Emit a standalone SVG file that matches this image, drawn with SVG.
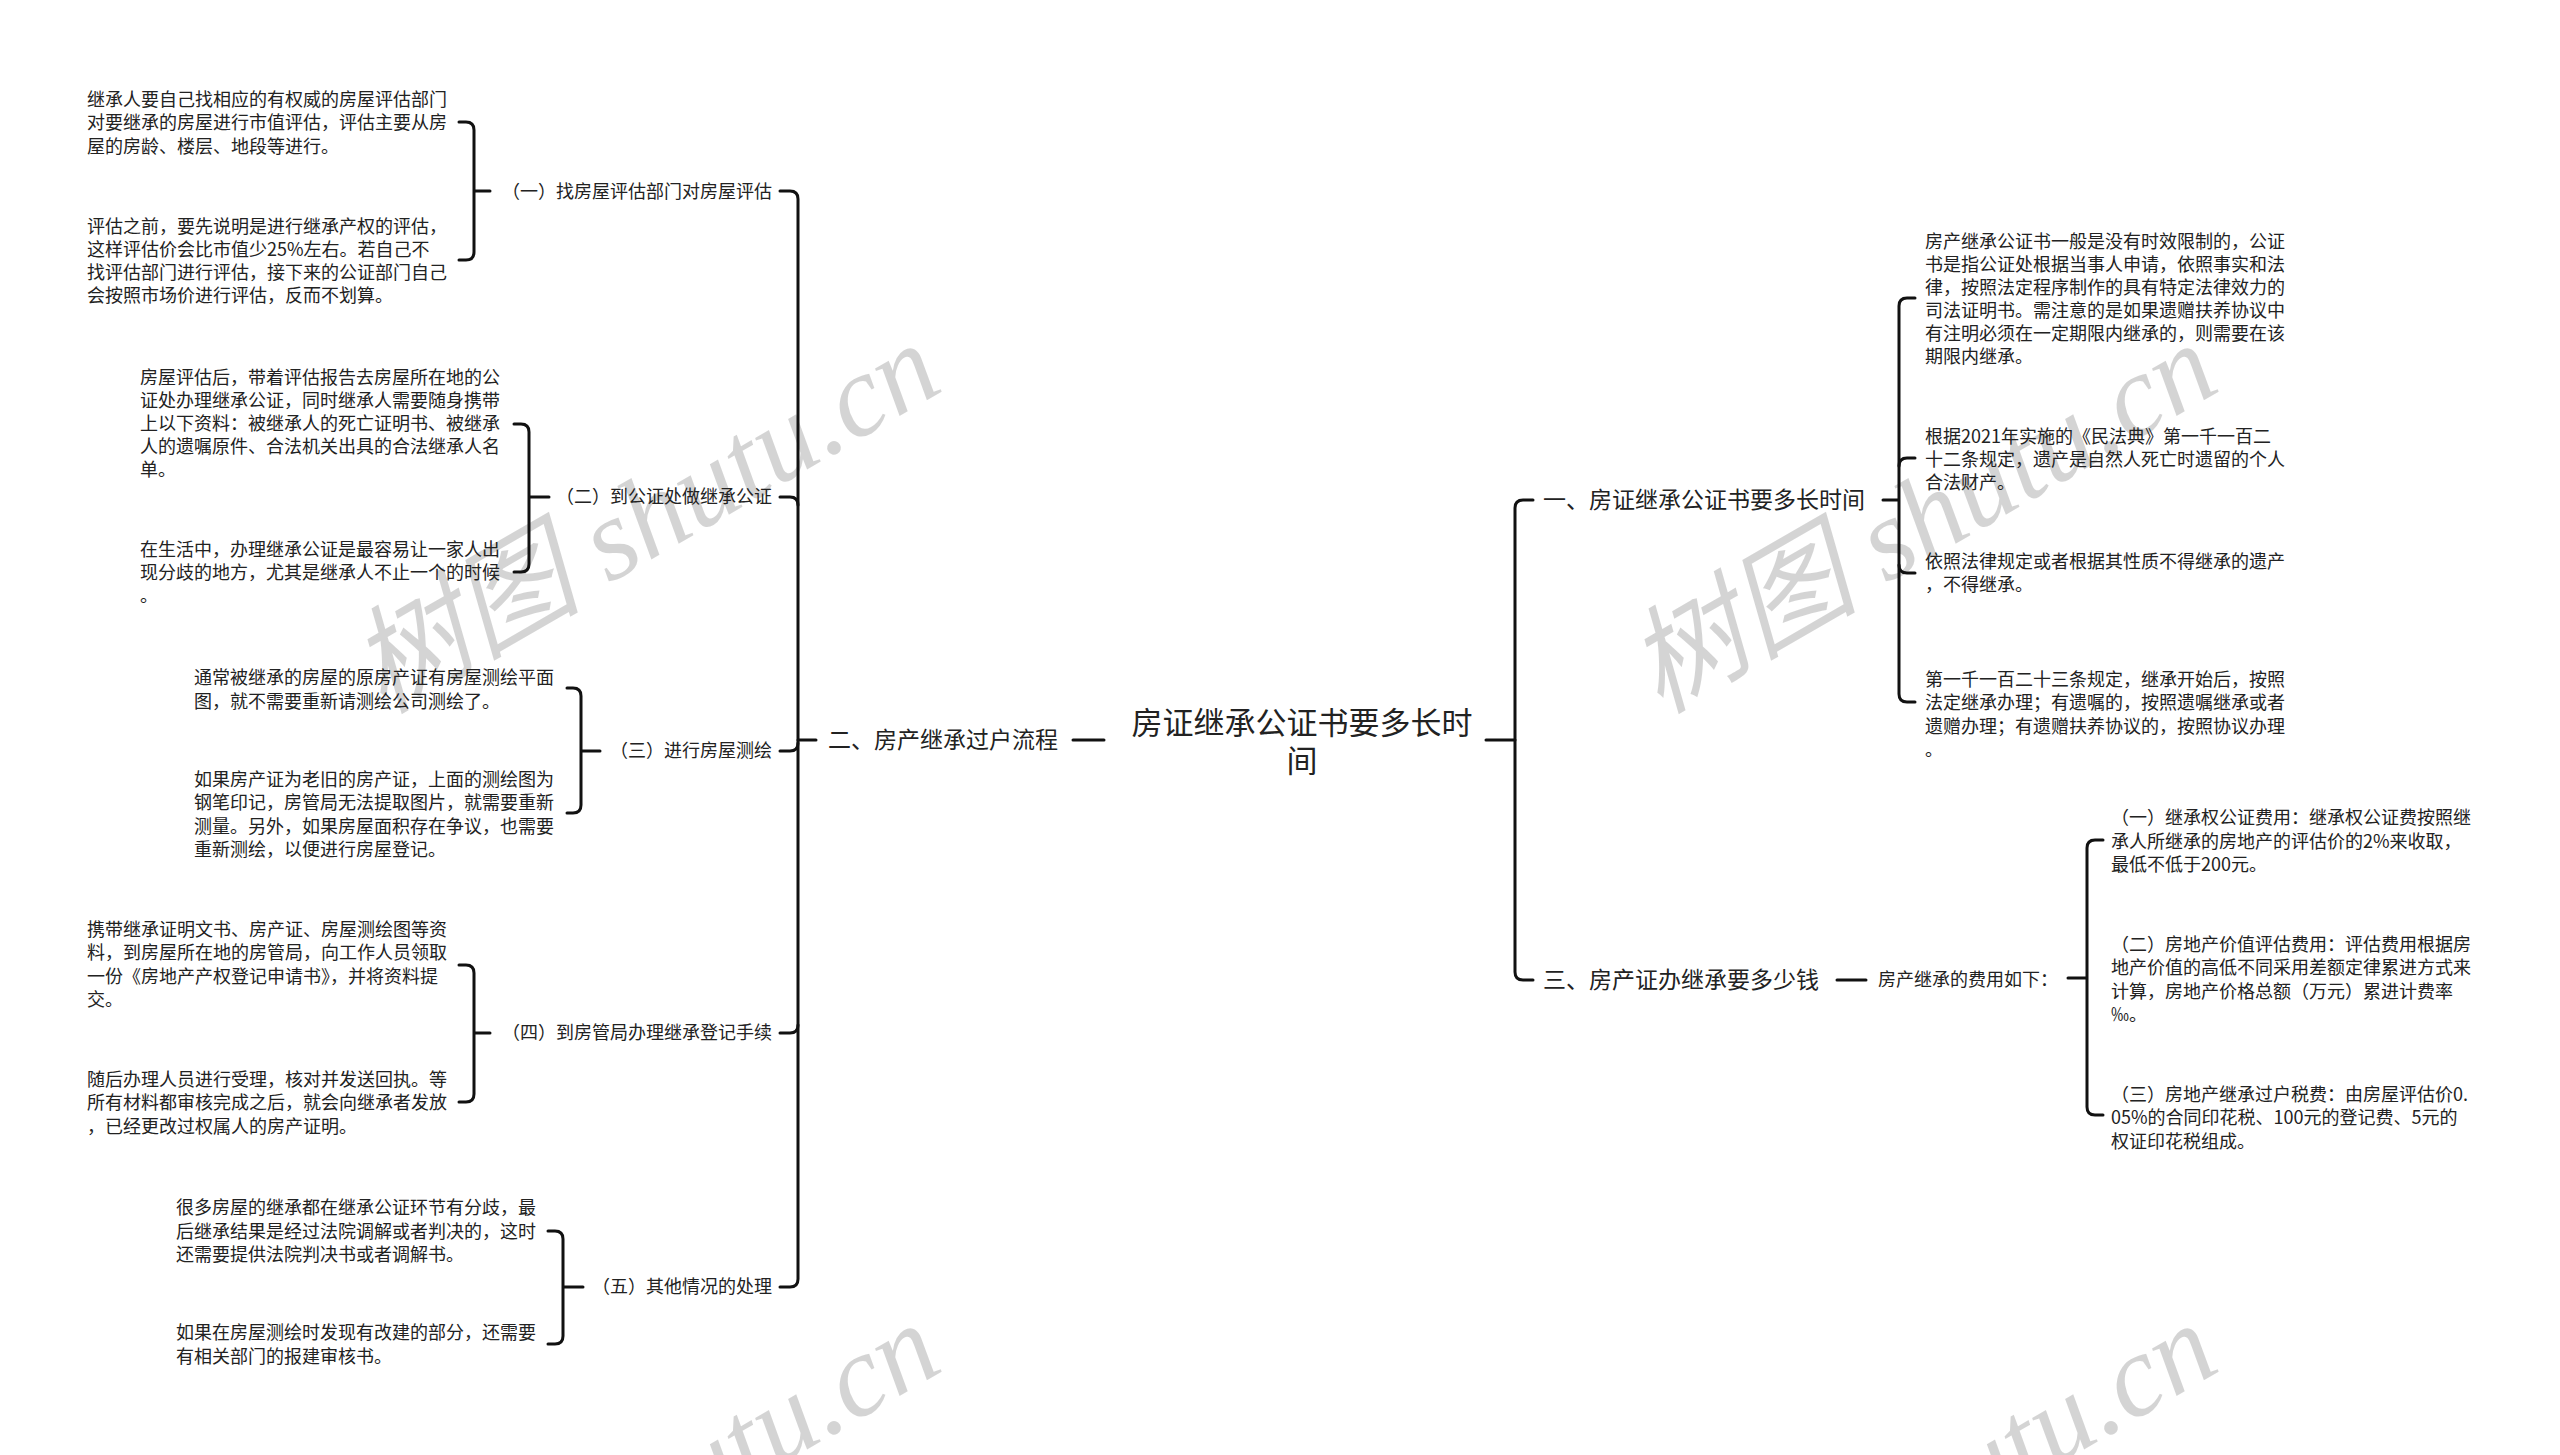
<svg xmlns="http://www.w3.org/2000/svg" width="2560" height="1455" viewBox="0 0 2560 1455">
<style>
text{font-family:"Noto Sans CJK SC","Liberation Sans",sans-serif;fill:#222;dominant-baseline:central}
.leaf{font-size:18px}
.sub{font-size:18px;text-anchor:end}
.l1{font-size:23px}
.root{font-size:31px;text-anchor:middle}
.ln{fill:none;stroke:#111;stroke-width:3;stroke-linecap:round;stroke-linejoin:round}
.wm{font-family:"Liberation Serif","Noto Sans CJK SC",serif;font-style:italic;font-size:116px;fill:#000;fill-opacity:0.17;text-anchor:middle}
</style>
<rect width="2560" height="1455" fill="#fff"/>

<g id="watermarks">
<text class="wm" x="645" y="518" transform="rotate(-30 645 518)">树图 shutu.cn</text>
<text class="wm" x="1922" y="518" transform="rotate(-30 1922 518)">树图 shutu.cn</text>
<text class="wm" x="645" y="1498" transform="rotate(-30 645 1498)">树图 shutu.cn</text>
<text class="wm" x="1922" y="1498" transform="rotate(-30 1922 1498)">树图 shutu.cn</text>
</g>

<g id="connectors">
<path class="ln" d="M1073 740 H1104"/>
<path class="ln" d="M1486 740 H1515"/>
<!-- left trunk -->
<path class="ln" d="M780 191 H790 Q798 191 798 199 V1279 Q798 1287 790 1287 H780"/>
<path class="ln" d="M780 497 H790 Q798 497 798 505"/>
<path class="ln" d="M780 751 H790 Q798 751 798 743"/>
<path class="ln" d="M780 1033 H790 Q798 1033 798 1025"/>
<path class="ln" d="M798 740 H816"/>
<!-- (一) bracket -->
<path class="ln" d="M459 122 H466 Q474 122 474 130 V252 Q474 260 466 260 H459 M474 191 H490"/>
<!-- (二) bracket -->
<path class="ln" d="M514 424 H521 Q529 424 529 432 V564 Q529 572 521 572 H514 M529 497 H549"/>
<!-- (三) bracket -->
<path class="ln" d="M567 688 H573 Q581 688 581 696 V805 Q581 813 573 813 H567 M581 751 H600"/>
<!-- (四) bracket -->
<path class="ln" d="M459 965 H466 Q474 965 474 973 V1094 Q474 1102 466 1102 H459 M474 1033 H490"/>
<!-- (五) bracket -->
<path class="ln" d="M548 1231 H555 Q563 1231 563 1239 V1336 Q563 1344 555 1344 H548 M563 1287 H583"/>
<!-- right trunk -->
<path class="ln" d="M1533 500 H1523 Q1515 500 1515 508 V972 Q1515 980 1523 980 H1533"/>
<!-- 一 bracket -->
<path class="ln" d="M1883 500 H1899 M1915 298 H1907 Q1899 298 1899 306 V694 Q1899 702 1907 702 H1915"/>
<path class="ln" d="M1915 458 H1907 Q1899 458 1899 466 M1915 573 H1907 Q1899 573 1899 565"/>
<!-- 三 -> fees -->
<path class="ln" d="M1837 980 H1866"/>
<path class="ln" d="M2068 978 H2087 M2103 840 H2095 Q2087 840 2087 848 V1107 Q2087 1115 2095 1115 H2103"/>
</g>

<g id="nodes" transform="translate(0,-2.5)">
<g id="root"><text class="root"><tspan x="1302" y="722">房证继承公证书要多长时</tspan><tspan x="1302" y="760">间</tspan></text></g>

<g id="n2"><text class="l1" x="828" y="740">二、房产继承过户流程</text></g>
<g id="n1"><text class="l1" x="1543" y="500">一、房证继承公证书要多长时间</text></g>
<g id="n3"><text class="l1" x="1543" y="980">三、房产证办继承要多少钱</text></g>

<g id="s1"><text class="sub" x="772" y="192">（一）找房屋评估部门对房屋评估</text></g>
<g id="s2"><text class="sub" x="772" y="497">（二）到公证处做继承公证</text></g>
<g id="s3"><text class="sub" x="772" y="751">（三）进行房屋测绘</text></g>
<g id="s4"><text class="sub" x="772" y="1033">（四）到房管局办理继承登记手续</text></g>
<g id="s5"><text class="sub" x="772" y="1287">（五）其他情况的处理</text></g>

<g id="a1"><text class="leaf"><tspan x="87" y="100">继承人要自己找相应的有权威的房屋评估部门</tspan><tspan x="87" y="123.5">对要继承的房屋进行市值评估，评估主要从房</tspan><tspan x="87" y="147">屋的房龄、楼层、地段等进行。</tspan></text></g>
<g id="a2"><text class="leaf"><tspan x="87" y="227">评估之前，要先说明是进行继承产权的评估，</tspan><tspan x="87" y="250">这样评估价会比市值少25%左右。若自己不</tspan><tspan x="87" y="273">找评估部门进行评估，接下来的公证部门自己</tspan><tspan x="87" y="296">会按照市场价进行评估，反而不划算。</tspan></text></g>

<g id="b1"><text class="leaf"><tspan x="140" y="378">房屋评估后，带着评估报告去房屋所在地的公</tspan><tspan x="140" y="401">证处办理继承公证，同时继承人需要随身携带</tspan><tspan x="140" y="424">上以下资料：被继承人的死亡证明书、被继承</tspan><tspan x="140" y="447">人的遗嘱原件、合法机关出具的合法继承人名</tspan><tspan x="140" y="470">单。</tspan></text></g>
<g id="b2"><text class="leaf"><tspan x="140" y="550">在生活中，办理继承公证是最容易让一家人出</tspan><tspan x="140" y="573">现分歧的地方，尤其是继承人不止一个的时候</tspan><tspan x="140" y="596">。</tspan></text></g>

<g id="c1"><text class="leaf"><tspan x="194" y="678">通常被继承的房屋的原房产证有房屋测绘平面</tspan><tspan x="194" y="702">图，就不需要重新请测绘公司测绘了。</tspan></text></g>
<g id="c2"><text class="leaf"><tspan x="194" y="780">如果房产证为老旧的房产证，上面的测绘图为</tspan><tspan x="194" y="803">钢笔印记，房管局无法提取图片，就需要重新</tspan><tspan x="194" y="827">测量。另外，如果房屋面积存在争议，也需要</tspan><tspan x="194" y="850">重新测绘，以便进行房屋登记。</tspan></text></g>

<g id="d1"><text class="leaf"><tspan x="87" y="930">携带继承证明文书、房产证、房屋测绘图等资</tspan><tspan x="87" y="953">料，到房屋所在地的房管局，向工作人员领取</tspan><tspan x="87" y="977">一份《房地产产权登记申请书》，并将资料提</tspan><tspan x="87" y="1000">交。</tspan></text></g>
<g id="d2"><text class="leaf"><tspan x="87" y="1080">随后办理人员进行受理，核对并发送回执。等</tspan><tspan x="87" y="1103">所有材料都审核完成之后，就会向继承者发放</tspan><tspan x="87" y="1127">，已经更改过权属人的房产证明。</tspan></text></g>

<g id="e1"><text class="leaf"><tspan x="176" y="1208">很多房屋的继承都在继承公证环节有分歧，最</tspan><tspan x="176" y="1232">后继承结果是经过法院调解或者判决的，这时</tspan><tspan x="176" y="1255">还需要提供法院判决书或者调解书。</tspan></text></g>
<g id="e2"><text class="leaf"><tspan x="176" y="1333">如果在房屋测绘时发现有改建的部分，还需要</tspan><tspan x="176" y="1357">有相关部门的报建审核书。</tspan></text></g>

<g id="r1"><text class="leaf"><tspan x="1925" y="242">房产继承公证书一般是没有时效限制的，公证</tspan><tspan x="1925" y="265">书是指公证处根据当事人申请，依照事实和法</tspan><tspan x="1925" y="288">律，按照法定程序制作的具有特定法律效力的</tspan><tspan x="1925" y="311">司法证明书。需注意的是如果遗赠扶养协议中</tspan><tspan x="1925" y="334">有注明必须在一定期限内继承的，则需要在该</tspan><tspan x="1925" y="357">期限内继承。</tspan></text></g>
<g id="r2"><text class="leaf"><tspan x="1925" y="437">根据2021年实施的《民法典》第一千一百二</tspan><tspan x="1925" y="460">十二条规定，遗产是自然人死亡时遗留的个人</tspan><tspan x="1925" y="483">合法财产。</tspan></text></g>
<g id="r3"><text class="leaf"><tspan x="1925" y="562">依照法律规定或者根据其性质不得继承的遗产</tspan><tspan x="1925" y="585">，不得继承。</tspan></text></g>
<g id="r4"><text class="leaf"><tspan x="1925" y="680">第一千一百二十三条规定，继承开始后，按照</tspan><tspan x="1925" y="703">法定继承办理；有遗嘱的，按照遗嘱继承或者</tspan><tspan x="1925" y="727">遗赠办理；有遗赠扶养协议的，按照协议办理</tspan><tspan x="1925" y="750">。</tspan></text></g>

<g id="fee"><text class="leaf" x="1878" y="980">房产继承的费用如下：</text></g>
<g id="f1"><text class="leaf"><tspan x="2111" y="818">（一）继承权公证费用：继承权公证费按照继</tspan><tspan x="2111" y="842">承人所继承的房地产的评估价的2%来收取，</tspan><tspan x="2111" y="865">最低不低于200元。</tspan></text></g>
<g id="f2"><text class="leaf"><tspan x="2111" y="945">（二）房地产价值评估费用：评估费用根据房</tspan><tspan x="2111" y="968">地产价值的高低不同采用差额定律累进方式来</tspan><tspan x="2111" y="992">计算，房地产价格总额（万元）累进计费率</tspan><tspan x="2111" y="1015">‰。</tspan></text></g>
<g id="f3"><text class="leaf"><tspan x="2111" y="1095">（三）房地产继承过户税费：由房屋评估价0.</tspan><tspan x="2111" y="1118">05%的合同印花税、100元的登记费、5元的</tspan><tspan x="2111" y="1142">权证印花税组成。</tspan></text></g>
</g>
</svg>
